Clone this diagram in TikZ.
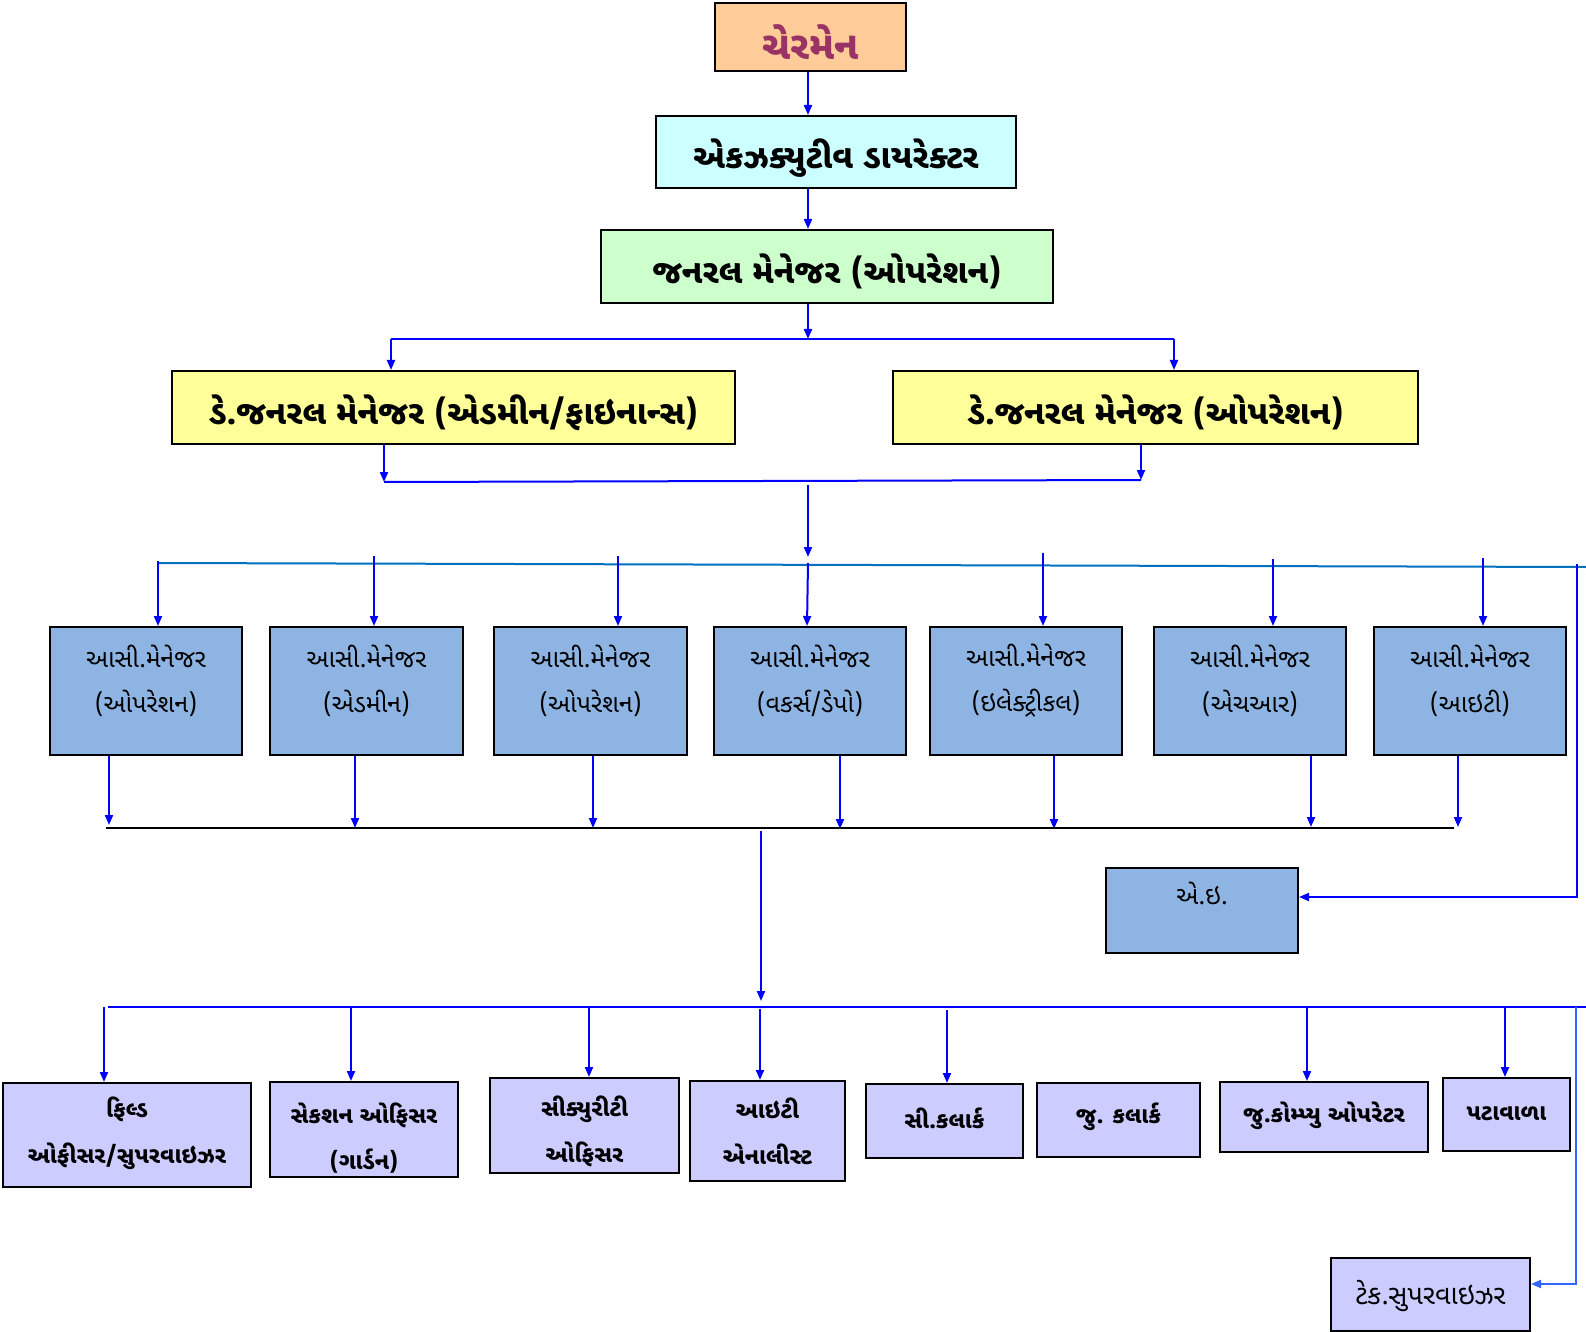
\documentclass[tikz,border=0pt]{standalone}
\usepackage{fontspec}
\newfontfamily\guj[Script=Gujarati]{Noto Sans Gujarati UI}
\usetikzlibrary{arrows.meta}
\definecolor{peach}{HTML}{FFCC99}
\definecolor{plum}{HTML}{993366}
\definecolor{lcyan}{HTML}{CCFFFF}
\definecolor{lgreen}{HTML}{CCFFCC}
\definecolor{lyellow}{HTML}{FFFF99}
\definecolor{asblue}{HTML}{8EB4E3}
\definecolor{lav}{HTML}{CCCCFF}
\definecolor{linkblue}{HTML}{0000FF}
\definecolor{steel}{HTML}{0070C0}
\definecolor{lightlink}{HTML}{3366FF}
% name, x1, y1, x2, y2, style, text, text shift (px, downwards)
\newcommand\obox[8]{\node[#6, minimum width={(#4-#2)*0.5pt}, minimum height={(#5-#3)*0.5pt}] (#1) at ({(#2+#4)/2},{(#3+#5)/2}) {};
  \node[#6, draw=none, fill=none, inner sep=0pt] (#1t) at ([yshift={-(#8)*0.5pt}]#1.center) {#7};}
\begin{document}
\begin{tikzpicture}[x=0.5pt,y=-0.5pt,
  box/.style={draw=black, line width=1pt, inner sep=0pt, align=center, font=\guj},
  topbox/.style={box, font=\guj\bfseries\fontsize{16.6}{20}\selectfont},
  asbox/.style={box, fill=asblue},
  btbox/.style={box, fill=lav, font=\guj\bfseries\fontsize{11.5}{23}\selectfont},
  astext/.style={align=center, inner sep=0pt, font=\guj\fontsize{12.5}{22.5}\selectfont},
  arr/.style={draw=linkblue, line width=1pt, -{Triangle[length=5pt,width=4pt]}},
  ln/.style={draw=linkblue, line width=1pt}]
\useasboundingbox (0,0) rectangle (1586,1332);
% top chain
\obox{ch}{715}{3}{906}{71}{topbox, fill=peach, text=plum, font=\guj\bfseries\fontsize{19.5}{24}\selectfont}{ચેરમેન}{5}
\obox{ex}{656}{116}{1016}{188}{topbox, fill=lcyan}{એકઝક્યુટીવ ડાયરેક્ટર}{6}
\obox{gm}{601}{230}{1053}{303}{topbox, fill=lgreen}{જનરલ મેનેજર (ઓપરેશન)}{5}
\obox{dga}{172}{371}{735}{444}{topbox, fill=lyellow}{ડે.જનરલ મેનેજર (એડમીન/ફાઇનાન્સ)}{5}
\obox{dgo}{893}{371}{1418}{444}{topbox, fill=lyellow}{ડે.જનરલ મેનેજર (ઓપરેશન)}{5}
% assistant managers
\obox{a1}{50}{627}{242}{755}{asbox, astext}{આસી.મેનેજર\\(ઓપરેશન)}{-10}
\obox{a2}{270}{627}{463}{755}{asbox, astext}{આસી.મેનેજર\\(એડમીન)}{-10}
\obox{a3}{494}{627}{687}{755}{asbox, astext}{આસી.મેનેજર\\(ઓપરેશન)}{-10}
\obox{a4}{714}{627}{906}{755}{asbox, astext}{આસી.મેનેજર\\(વકર્સ/ડેપો)}{-10}
\obox{a5}{930}{627}{1122}{755}{asbox, astext}{આસી.મેનેજર\\(ઇલેક્ટ્રીકલ)}{-10}
\obox{a6}{1154}{627}{1346}{755}{asbox, astext}{આસી.મેનેજર\\(એચઆર)}{-10}
\obox{a7}{1374}{627}{1566}{755}{asbox, astext}{આસી.મેનેજર\\(આઇટી)}{-10}
\obox{ae}{1106}{868}{1298}{953}{asbox, astext}{એ.ઇ.}{-17}
% bottom row
\obox{f1}{3}{1083}{251}{1187}{btbox}{ફિલ્ડ\\ઓફીસર/સુપરવાઇઝર}{-2}
\obox{f2}{270}{1082}{458}{1177}{btbox}{સેકશન ઓફિસર\\(ગાર્ડન)}{9}
\obox{f3}{490}{1078}{679}{1173}{btbox}{સીક્યુરીટી\\ઓફિસર}{6}
\obox{f4}{690}{1081}{845}{1181}{btbox}{આઇટી\\એનાલીસ્ટ}{0}
\obox{f5}{866}{1084}{1023}{1158}{btbox}{સી.કલાર્ક}{-3}
\obox{f6}{1037}{1083}{1200}{1157}{btbox}{જુ. કલાર્ક}{-3}
\obox{f7}{1220}{1082}{1428}{1152}{btbox}{જુ.કોમ્પ્યુ ઓપરેટર}{-1}
\obox{f8}{1443}{1078}{1570}{1151}{btbox}{પટાવાળા}{-1}
\obox{ts}{1331}{1258}{1530}{1331}{btbox, font=\guj\fontsize{13.5}{20}\selectfont}{ટેક.સુપરવાઇઝર}{2}
% junction coordinates
\coordinate (j1) at (808,339);
\coordinate (j1l) at (391,339);
\coordinate (j1r) at (1174,339);
\coordinate (m2l) at (384,482);
\coordinate (m2r) at (1141,480);
\coordinate (m2c) at (808,485);
\coordinate (b3l) at (158,563);
\coordinate (b3r) at (1586,567);
\coordinate (e3) at (1577,564);
\coordinate (e3c) at (1577,897);
\coordinate (k4l) at (106,828);
\coordinate (k4r) at (1454,828);
\coordinate (k4c) at (761,831);
\coordinate (b5l) at (108,1007);
\coordinate (b5r) at (1586,1007);
\coordinate (e5) at (1576,1007);
\coordinate (e5c) at (1576,1284);
% connectors
\draw[arr] (ch.south -| 808,0) -- (ex.north -| 808,0);
\draw[arr] (ex.south -| 808,0) -- (gm.north -| 808,0);
\draw[arr] (gm.south -| 808,0) -- (j1);
\draw[ln] (j1l) -- (j1r);
\draw[arr] (j1l) -- (dga.north -| j1l);
\draw[arr] (j1r) -- (dgo.north -| j1r);
\draw[arr] (dga.south -| m2l) -- (m2l);
\draw[arr] (dgo.south -| m2r) -- (m2r);
\draw[ln] (m2l) -- (m2r);
\draw[arr] (m2c) -- (808,557);
\draw[steel, line width=1pt] (b3l) -- (b3r);
\draw[arr] (158,561) -- (a1.north -| 158,0);
\draw[arr] (374,556) -- (a2.north -| 374,0);
\draw[arr] (618,556) -- (a3.north -| 618,0);
\draw[arr] (808,563) -- (a4.north -| 807,0);
\draw[arr] (1043,553) -- (a5.north -| 1043,0);
\draw[arr] (1273,559) -- (a6.north -| 1273,0);
\draw[arr] (1483,558) -- (a7.north -| 1483,0);
\draw[arr] (e3) -- (e3c) -- (ae.east |- e3c);
\draw[arr] (a1.south -| 109,0) -- (109,825);
\draw[arr] (a2.south -| 355,0) -- (355,828);
\draw[arr] (a3.south -| 593,0) -- (593,828);
\draw[arr] (a4.south -| 840,0) -- (840,829);
\draw[arr] (a5.south -| 1054,0) -- (1054,829);
\draw[arr] (a6.south -| 1311,0) -- (1311,827);
\draw[arr] (a7.south -| 1458,0) -- (1458,827);
\draw[black, line width=1pt] (k4l) -- (k4r);
\draw[arr] (k4c) -- (761,1001);
\draw[ln] (b5l) -- (b5r);
\draw[arr] (104,1007) -- (f1.north -| 104,0);
\draw[arr] (351,1007) -- (f2.north -| 351,0);
\draw[arr] (589,1007) -- (f3.north -| 589,0);
\draw[arr] (760,1009) -- (f4.north -| 760,0);
\draw[arr] (947,1010) -- (f5.north -| 947,0);
\draw[arr] (1307,1007) -- (f7.north -| 1307,0);
\draw[arr] (1505,1007) -- (f8.north -| 1505,0);
\draw[lightlink, line width=1pt, -{Triangle[length=5pt,width=4pt]}] (e5) -- (e5c) -- (ts.east |- e5c);
\end{tikzpicture}
\end{document}
